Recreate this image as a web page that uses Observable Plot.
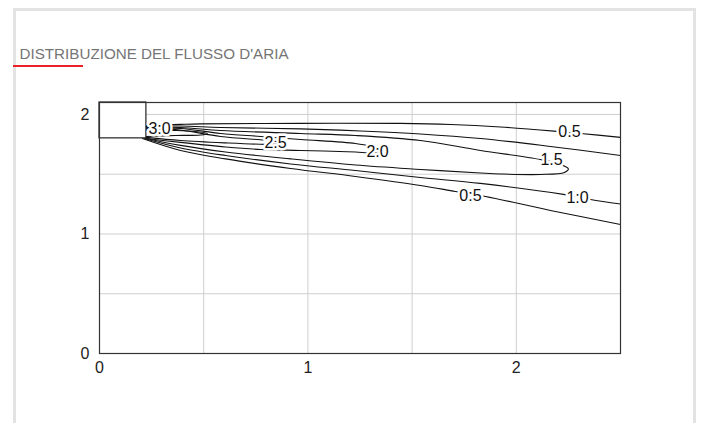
<!DOCTYPE html>
<html><head><meta charset="utf-8">
<script src="https://cdn.jsdelivr.net/npm/d3@7"></script>
<script src="https://cdn.jsdelivr.net/npm/@observablehq/plot@0.6"></script>
<style>
html,body{margin:0;padding:0;background:#fff;width:702px;height:423px;overflow:hidden;font-family:"Liberation Sans",Arial,sans-serif;}
#border{position:absolute;left:13px;top:8px;width:683px;height:470px;border:3px solid #e3e3e3;border-bottom:none;box-sizing:border-box;}
#title{position:absolute;left:19.5px;top:45px;font-size:15.2px;color:#757575;white-space:nowrap;}
#rule{position:absolute;left:13px;top:65px;width:70px;height:2px;background:#e8212b;}
#chart{position:absolute;left:0;top:0;}
#chart svg text{font-family:"Liberation Sans",Arial,sans-serif;}
</style></head><body>
<div id="border"></div>
<div id="chart"></div>
<div id="title">DISTRIBUZIONE DEL FLUSSO D'ARIA</div>
<div id="rule"></div>
<script>
// axis ticks and grid
const xTicks = [0, 1, 2];
const yTicks = [0, 1, 2];
const gridXValues = [0.5, 1, 1.5, 2];
const gridYValues = [0.5, 1, 1.5, 2];

// inlet (diffuser) box
const inletX = [0, 0.225];
const inletY = [1.8, 2.1];

// contour lines, [x, y] in metres
const c05upper = [[0.225,1.908],[0.389,1.917],[0.485,1.921],[0.965,1.925],[1.444,1.925],[1.684,1.916],[1.924,1.895],[2.198,1.858],[2.308,1.841],[2.5,1.808]];
const c05lower = [[0.206,1.799],[0.389,1.699],[0.605,1.628],[0.917,1.548],[1.228,1.481],[1.540,1.406],[1.708,1.356],[1.852,1.314],[2.164,1.197],[2.5,1.079]];
const c10upper = [[0.225,1.900],[0.389,1.903],[0.581,1.891],[0.965,1.879],[1.252,1.862],[1.540,1.837],[1.828,1.799],[2.164,1.732],[2.5,1.657]];
const c10lower = [[0.216,1.799],[0.389,1.720],[0.605,1.657],[0.917,1.586],[1.228,1.531],[1.540,1.473],[1.828,1.423],[2.226,1.331],[2.356,1.289],[2.5,1.251]];
const c15 = [[0.225,1.891],[0.389,1.891],[0.581,1.866],[0.965,1.841],[1.228,1.824],[1.540,1.782],[1.828,1.699],[2.116,1.623],[2.212,1.582],[2.250,1.544],[2.231,1.515],[2.116,1.498],[1.924,1.502],[1.828,1.510],[1.540,1.540],[1.228,1.577],[0.917,1.628],[0.605,1.686],[0.389,1.741],[0.225,1.799]];
const c20 = [[0.225,1.883],[0.389,1.883],[0.581,1.841],[0.773,1.816],[0.965,1.791],[1.228,1.757],[1.300,1.733],[1.350,1.699],[1.300,1.680],[1.228,1.686],[0.965,1.699],[0.773,1.707],[0.605,1.728],[0.389,1.766],[0.225,1.799]];
const c25 = [[0.225,1.874],[0.365,1.874],[0.581,1.816],[0.792,1.785],[0.860,1.772],[0.885,1.762],[0.860,1.752],[0.792,1.750],[0.605,1.762],[0.389,1.782],[0.225,1.808]];
const c30 = [[0.225,1.866],[0.365,1.866],[0.461,1.858],[0.518,1.841],[0.485,1.828],[0.365,1.824],[0.225,1.816]];

// contour labels
const labelText = ["3:0", "2.5", "2:0", "1.5", "0.5", "1:0", "0:5"];
const labelX = [0.288, 0.845, 1.334, 2.169, 2.255, 2.294, 1.780];
const labelY = [1.883, 1.766, 1.690, 1.623, 1.858, 1.305, 1.318];

const paths = {c05upper, c05lower, c10upper, c10lower, c15, c20, c25, c30};
const lineRows = Object.entries(paths).flatMap(([id, pts]) => pts.map(([x, y]) => ({id, x, y})));
const labelRows = labelText.map((t, i) => ({t, x: labelX[i], y: labelY[i]}));
const inletRows = [{x1: inletX[0], x2: inletX[1], y1: inletY[0], y2: inletY[1]}];

const chart = Plot.plot({
  width: 702,
  height: 423,
  marginLeft: 99,
  marginRight: 82,
  marginTop: 102,
  marginBottom: 70,
  style: {background: "transparent", fontFamily: "'Liberation Sans', Arial, sans-serif", fontSize: "16px", color: "#222"},
  x: {domain: [0, 2.5]},
  y: {domain: [0, 2.1]},
  marks: [
    Plot.ruleX(gridXValues, {stroke: "#cfcfcf", strokeWidth: 1}),
    Plot.ruleY(gridYValues, {stroke: "#cfcfcf", strokeWidth: 1}),
    Plot.axisX({ticks: xTicks, tickSize: 0, tickPadding: 8, fontSize: 16, label: null, tickFormat: d => String(d)}),
    Plot.axisY({ticks: yTicks, tickSize: 0, tickPadding: 10, fontSize: 16, label: null, tickFormat: d => String(d)}),
    Plot.line(lineRows, {x: "x", y: "y", z: "id", curve: "catmull-rom", stroke: "#111", strokeWidth: 1.1}),
    Plot.rect(inletRows, {x1: "x1", x2: "x2", y1: "y1", y2: "y2", fill: "white", stroke: "#222", strokeWidth: 1.2}),
    Plot.text(labelRows, {x: "x", y: "y", text: "t", fontSize: 16, fill: "#111", stroke: "white", strokeWidth: 5}),
    Plot.frame({stroke: "#333", strokeWidth: 1.2})
  ]
});
document.getElementById("chart").appendChild(chart);
</script>
</body></html>
